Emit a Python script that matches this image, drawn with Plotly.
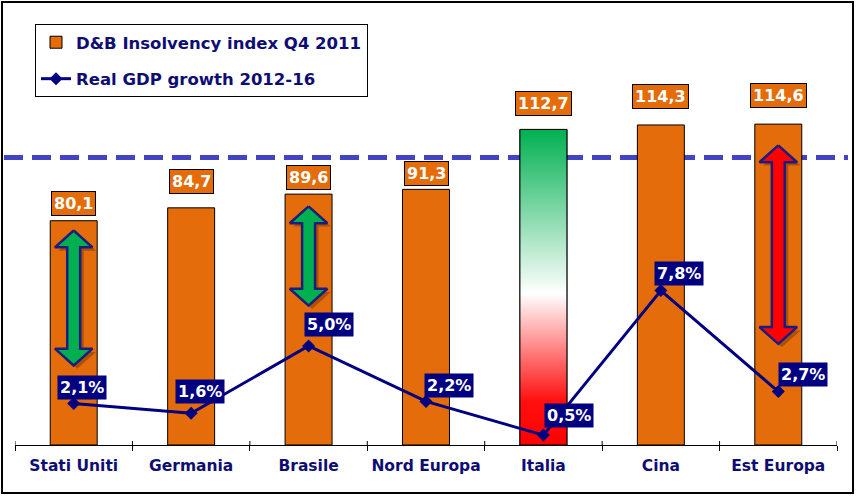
import plotly.graph_objects as go

# ---------------- data ----------------
categories = ["Stati Uniti", "Germania", "Brasile", "Nord Europa", "Italia", "Cina", "Est Europa"]
insolvency_index = [80.1, 84.7, 89.6, 91.3, 112.7, 114.3, 114.6]
gdp_growth = [2.1, 1.6, 5.0, 2.2, 0.5, 7.8, 2.7]
threshold_value = 102.7  # dashed reference line (index units)

# decorative double arrows: category, top value, bottom value, colour
arrow_categories = ["Stati Uniti", "Brasile", "Est Europa"]
arrow_top = [76.6, 85.2, 107.0]
arrow_bottom = [28.4, 49.8, 36.1]
arrow_colors = ["#00B050", "#00B050", "#FF0000"]

gradient_category = "Italia"

# ---------------- styling ----------------
W, H = 856, 497
ML, MR, MT, MB = 15, 19, 25, 52
PW, PH = W - ML - MR, H - MT - MB
NAVY = "#0D0D73"
ORANGE = "#E46C0A"
FONT = "DejaVu Sans"
bar_width = 0.4

bar_label_gap = [5, 14, 4, 3, 13, 16, 16]
gdp_label_dx = [8, 9, 20, 23, 26, 18, 25]
gdp_label_dy = [16, 22, 21, 16, 20, 17, 17]

xpos = list(range(len(categories)))
gi = categories.index(gradient_category)
bar_colors = [("rgba(0,0,0,0)" if c == gradient_category else ORANGE) for c in categories]

fig = go.Figure()

fig.add_trace(go.Bar(
    x=xpos, y=insolvency_index, width=bar_width,
    marker=dict(color=bar_colors, line=dict(color="black", width=1)),
    name="D&B Insolvency index Q4 2011", legendgroup="a",
    hoverinfo="x+y",
))

# gradient (tricolore) bar for Italy
hw = bar_width / 2
fig.add_trace(go.Scatter(
    x=[gi - hw, gi + hw, gi + hw, gi - hw, gi - hw],
    y=[0, 0, insolvency_index[gi], insolvency_index[gi], 0],
    mode="lines", fill="toself",
    fillgradient=dict(type="vertical",
                      colorscale=[[0, "#FF0000"], [0.14, "#FF1010"], [0.48, "#FFFFFF"], [1, "#00B050"]]),
    line=dict(color="black", width=1),
    showlegend=False, hoverinfo="skip",
))

# double arrows
head_h, head_w, shaft_w = 6.0, 0.16, 0.055
for cat, top, bot, col in zip(arrow_categories, arrow_top, arrow_bottom, arrow_colors):
    cx = categories.index(cat)
    px = [cx, cx + head_w, cx + shaft_w, cx + shaft_w, cx + head_w, cx,
          cx - head_w, cx - shaft_w, cx - shaft_w, cx - head_w, cx]
    py = [top, top - head_h, top - head_h, bot + head_h, bot + head_h, bot,
          bot + head_h, bot + head_h, top - head_h, top - head_h, top]
    fig.add_trace(go.Scatter(
        x=[v + 0.03 for v in px], y=[v - 1.2 for v in py], mode="lines", fill="toself",
        fillcolor="rgba(70,30,0,0.35)", line=dict(width=0),
        showlegend=False, hoverinfo="skip"))
    fig.add_trace(go.Scatter(
        x=px, y=py, mode="lines", fill="toself", fillcolor=col,
        line=dict(color="#1C1C80", width=2.5),
        showlegend=False, hoverinfo="skip"))

fig.add_trace(go.Scatter(
    x=xpos, y=gdp_growth, yaxis="y2", mode="lines+markers",
    line=dict(color="#000080", width=3),
    marker=dict(symbol="diamond", size=10, color="#000080"),
    name="Real GDP growth 2012-16", legendgroup="b",
))

annotations = []
for i, v in enumerate(insolvency_index):
    annotations.append(dict(
        x=i, y=v, xref="x", yref="y", yanchor="bottom", yshift=bar_label_gap[i],
        text=f"{v:.1f}".replace(".", ","), showarrow=False,
        font=dict(family=FONT, size=16, color="white", weight="bold"),
        bgcolor=ORANGE, bordercolor="black", borderwidth=1, borderpad=2,
    ))
for i, g in enumerate(gdp_growth):
    annotations.append(dict(
        x=i, y=g, xref="x", yref="y2", xshift=gdp_label_dx[i], yshift=gdp_label_dy[i],
        text=f"{g:.1f}%".replace(".", ","), showarrow=False,
        font=dict(family=FONT, size=16, color="white", weight="bold"),
        bgcolor="#000080", borderpad=2,
    ))

shapes = [
    # dashed threshold line across the whole chart
    dict(type="line", xref="paper", yref="y",
         x0=(4 - ML) / PW, x1=(848 - ML) / PW, y0=threshold_value, y1=threshold_value,
         line=dict(color="#4343C6", width=5, dash="19px,9px"), layer="below"),
    # outer frame
    dict(type="rect", xref="paper", yref="paper",
         x0=(2 - ML) / PW, x1=(853 - ML) / PW,
         y0=-(493 - (H - MB)) / PH, y1=((H - MB) - 2) / PH,
         line=dict(color="black", width=2)),
]
for k in range(len(categories) + 1):
    shapes.append(dict(type="line", xref="x", yref="y", x0=k - 0.5, x1=k - 0.5,
                       ysizemode="pixel", yanchor=0, y0=0, y1=4,
                       line=dict(color="black", width=1)))

fig.update_layout(
    width=W, height=H,
    margin=dict(l=ML, r=MR, t=MT, b=MB),
    paper_bgcolor="white", plot_bgcolor="white",
    xaxis=dict(range=[-0.5, len(categories) - 0.5], tickvals=xpos, ticktext=categories,
               showline=True, linecolor="black", linewidth=1, ticks="", showgrid=False,
               zeroline=False, fixedrange=True,
               tickfont=dict(family=FONT, size=15.5, color=NAVY, weight="bold"),
               minor=dict(tick0=-0.5, dtick=1, ticks="outside", ticklen=5,
                          tickcolor="black", tickwidth=1, showgrid=False),
               ticklabelstandoff=6),
    yaxis=dict(range=[0, 150], visible=False, showgrid=False, zeroline=False),
    yaxis2=dict(range=[0, 21.21], overlaying="y", visible=False, showgrid=False, zeroline=False),
    legend=dict(x=(35 - ML) / PW, y=((H - MB) - 24) / PH, xanchor="left", yanchor="top",
                bgcolor="white", bordercolor="black", borderwidth=1,
                font=dict(family=FONT, size=16.5, color=NAVY, weight="bold"),
                traceorder="grouped", tracegroupgap=12, itemwidth=30),
    annotations=annotations,
    shapes=shapes,
    showlegend=True,
)

fig.write_html(
    "out.html",
    config={"displayModeBar": False},
    post_script="document.body.style.margin='0';document.body.style.overflow='hidden';",
)
